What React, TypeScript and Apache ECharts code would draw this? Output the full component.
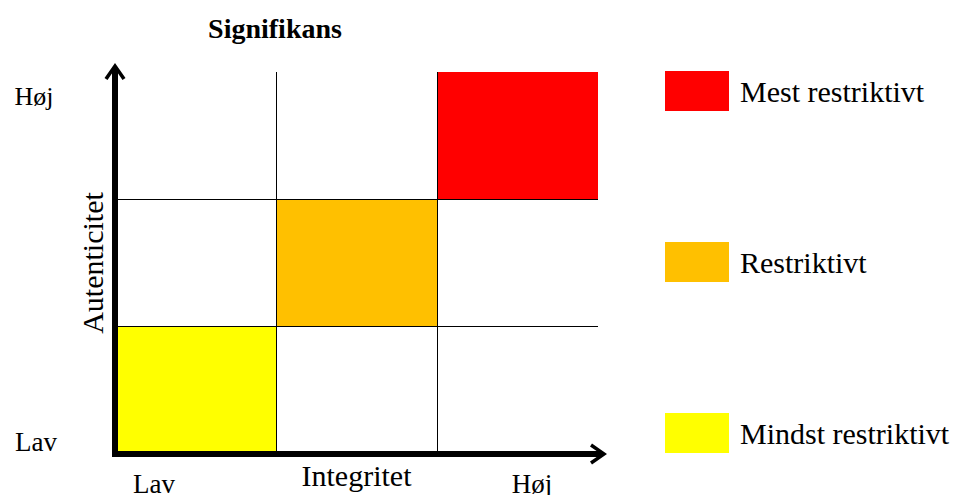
import React, { useEffect, useRef } from "react";
import * as echarts from "echarts";

const FONT = "'Liberation Serif', 'Times New Roman', serif";

const legendNames = ["Mest restriktivt", "Restriktivt", "Mindst restriktivt"];
const cellColors = ["#FF0000", "#FFC000", "#FFFF00"];
const cellCols = [2, 1, 0];
const cellRows = [2, 1, 0];
const levelLabels = ["Lav", "Høj"];
const xName = "Integritet";
const yName = "Autenticitet";
const titleText = "Signifikans";

const ARROW =
  "path://M10.5,0 L21,15 L18,17 L10.5,6 L3,17 L0,15 Z M7.5,5 L13.5,5 L13.5,18 L7.5,18 Z";

export default function App() {
  const ref = useRef<HTMLDivElement>(null);
  useEffect(() => {
    if (!ref.current) return;
    const chart = echarts.init(ref.current, undefined, { renderer: "svg" });
    const series = legendNames.map((name, i) => ({
      type: "custom",
      name,
      z: 1,
      itemStyle: { color: cellColors[i] },
      data: [[cellCols[i], cellRows[i]]],
      renderItem: (params: any, api: any) => {
        const c = api.value(0);
        const r = api.value(1);
        const p0 = api.coord([c, r + 1]);
        const p1 = api.coord([c + 1, r]);
        return {
          type: "rect",
          shape: { x: p0[0], y: p0[1], width: p1[0] - p0[0], height: p1[1] - p0[1] },
          style: { fill: api.visual("color") },
        };
      },
    }));
    const txt = (x: number, y: number, text: string, size: number, weight = "normal") => ({
      type: "text",
      x,
      y,
      style: {
        text,
        fill: "#000",
        font: `${weight} ${size}px ${FONT}`,
        textAlign: "center",
        textVerticalAlign: "middle",
      },
    });
    chart.setOption({
      animation: false,
      backgroundColor: "#fff",
      grid: { left: 115, right: 359, top: 72, bottom: 37 },
      xAxis: {
        type: "value",
        min: 0,
        max: 3,
        interval: 1,
        z: 3,
        name: xName,
        nameLocation: "middle",
        nameGap: 6,
        nameTextStyle: { fontFamily: FONT, fontSize: 30, color: "#000" },
        axisLine: {
          show: true,
          symbol: ["none", ARROW],
          symbolSize: [21, 18],
          lineStyle: { color: "#000", width: 6, cap: "square" },
        },
        axisTick: { show: false },
        axisLabel: { show: false },
        splitLine: { show: true, showMinLine: false, showMaxLine: false, lineStyle: { color: "#000", width: 1 } },
      },
      yAxis: {
        type: "value",
        min: 0,
        max: 3,
        interval: 1,
        z: 3,
        name: yName,
        nameLocation: "middle",
        nameRotate: 90,
        nameGap: 8,
        nameTextStyle: { fontFamily: FONT, fontSize: 30, color: "#000" },
        axisLine: {
          show: true,
          symbol: ["none", ARROW],
          symbolSize: [21, 18],
          lineStyle: { color: "#000", width: 6, cap: "square" },
        },
        axisTick: { show: false },
        axisLabel: { show: false },
        splitLine: { show: true, showMinLine: false, showMaxLine: false, lineStyle: { color: "#000", width: 1 } },
      },
      legend: {
        orient: "vertical",
        left: 665,
        top: 71,
        padding: 0,
        icon: "rect",
        itemWidth: 64,
        itemHeight: 40,
        itemGap: 131,
        selectedMode: false,
        data: legendNames,
        textStyle: { fontFamily: FONT, fontSize: 30, color: "#000", padding: [0, 0, 0, 6] },
      },
      graphic: [
        txt(275, 28, titleText, 28, "bold"),
        txt(34, 96, levelLabels[1], 26),
        txt(36, 442, levelLabels[0], 27),
        txt(154, 484, levelLabels[0], 27),
        txt(532, 484, levelLabels[1], 27),
      ],
      series,
    });
    return () => chart.dispose();
  }, []);
  return (
    <div
      ref={ref}
      style={{ position: "fixed", left: 0, top: 0, width: 957, height: 495 }}
    />
  );
}
